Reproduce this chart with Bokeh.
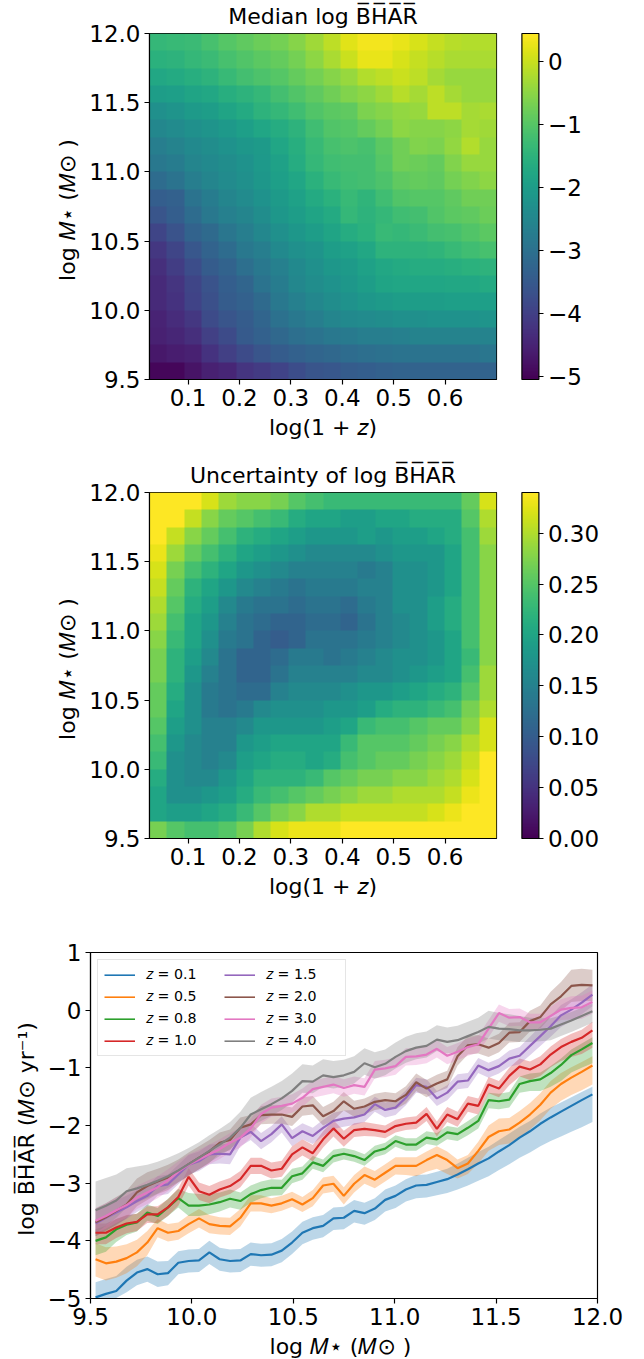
import numpy as np
from bokeh.embed import file_html
from bokeh.resources import INLINE
from bokeh.plotting import figure
from bokeh.models import (Range1d, LinearColorMapper, ColorBar, FixedTicker, NumeralTickFormatter)
from bokeh.palettes import Viridis256

median_rows = [
[-1.4,-1.35,-1.3,-1.15,-1.0,-.9,-.8,-.7,-.55,-.35,-.1,.2,.35,.35,.25,.1,-.05,-.15,-.2,-.2],
[-1.55,-1.5,-1.4,-1.3,-1.15,-1.05,-.95,-.85,-.7,-.5,-.25,.0,.25,.25,.1,-.05,-.15,-.25,-.25,-.25],
[-1.75,-1.7,-1.6,-1.5,-1.35,-1.2,-1.1,-1.0,-.85,-.7,-.55,-.4,-.2,-.1,0,-.1,-.3,-.4,-.4,-.4],
[-2.0,-1.95,-1.85,-1.75,-1.6,-1.5,-1.4,-1.2,-1.05,-.9,-.75,-.6,-.5,-.35,-.15,-.3,-.1,-.3,-.4,-.4],
[-2.3,-2.2,-2.05,-2.0,-1.85,-1.7,-1.5,-1.4,-1.25,-1.05,-.95,-.9,-.65,-.55,-.45,-.4,-.1,-.1,-.3,-.25],
[-2.5,-2.4,-2.3,-2.2,-2.1,-1.95,-1.8,-1.65,-1.5,-1.25,-1.05,-1.0,-.85,-.7,-.5,-.55,-.55,-.5,-.3,-.35],
[-2.7,-2.6,-2.45,-2.35,-2.25,-2.15,-2.05,-1.8,-1.6,-1.35,-1.15,-1.1,-1.15,-.95,-.75,-.6,-.65,-.45,-.2,-.4],
[-2.85,-2.75,-2.55,-2.45,-2.35,-2.25,-2.1,-1.9,-1.65,-1.4,-1.25,-1.2,-1.2,-1.0,-.75,-.8,-.85,-.6,-.4,-.4],
[-3.1,-2.95,-2.7,-2.55,-2.4,-2.3,-2.15,-1.95,-1.8,-1.55,-1.35,-1.25,-1.2,-1.1,-.9,-.85,-.9,-.7,-.6,-.5],
[-3.4,-3.35,-2.95,-2.75,-2.55,-2.4,-2.25,-2.05,-1.9,-1.7,-1.55,-1.35,-1.45,-1.25,-1.05,-1.0,-1.0,-.9,-.75,-.75],
[-3.6,-3.4,-3.1,-2.85,-2.65,-2.55,-2.35,-2.15,-2.0,-1.85,-1.7,-1.4,-1.5,-1.4,-1.25,-1.2,-1.05,-.95,-.9,-.8],
[-3.9,-3.65,-3.3,-3.15,-2.9,-2.7,-2.5,-2.3,-2.15,-2.0,-1.85,-1.65,-1.55,-1.35,-1.4,-1.3,-1.2,-1.15,-1.05,-.95],
[-4.15,-3.9,-3.55,-3.3,-3.1,-2.85,-2.7,-2.45,-2.3,-2.2,-2.0,-1.9,-1.75,-1.5,-1.5,-1.5,-1.45,-1.35,-1.25,-1.15],
[-4.3,-4.05,-3.75,-3.45,-3.3,-3.05,-2.85,-2.65,-2.45,-2.3,-2.15,-2.05,-1.9,-1.75,-1.7,-1.65,-1.65,-1.6,-1.55,-1.5],
[-4.4,-4.2,-3.9,-3.65,-3.4,-3.25,-2.95,-2.75,-2.5,-2.35,-2.25,-2.15,-2.0,-1.85,-1.8,-1.8,-1.8,-1.75,-1.75,-1.7],
[-4.4,-4.25,-3.95,-3.7,-3.45,-3.35,-3.15,-2.85,-2.65,-2.5,-2.35,-2.25,-2.15,-2.05,-2.0,-2.0,-2.0,-1.95,-1.95,-1.95],
[-4.5,-4.35,-4.15,-3.8,-3.6,-3.45,-3.25,-3.0,-2.85,-2.7,-2.55,-2.45,-2.4,-2.35,-2.3,-2.3,-2.25,-2.25,-2.25,-2.2],
[-4.55,-4.45,-4.3,-4.0,-3.8,-3.5,-3.35,-3.2,-3.05,-2.95,-2.85,-2.8,-2.7,-2.7,-2.65,-2.6,-2.6,-2.6,-2.6,-2.6],
[-4.7,-4.6,-4.55,-4.25,-4.0,-3.8,-3.6,-3.45,-3.35,-3.25,-3.2,-3.1,-3.05,-3.0,-2.95,-2.95,-2.95,-2.95,-2.95,-2.9],
[-4.95,-4.95,-4.75,-4.55,-4.45,-4.2,-4.1,-3.95,-3.75,-3.6,-3.55,-3.45,-3.4,-3.35,-3.3,-3.3,-3.3,-3.3,-3.3,-3.3],
]
uncert_rows = [
[.34,.34,.34,.32,.29,.28,.28,.27,.25,.24,.23,.23,.23,.23,.23,.23,.23,.23,.26,.32],
[.34,.34,.31,.28,.26,.25,.24,.23,.21,.20,.20,.19,.19,.20,.20,.21,.21,.21,.25,.30],
[.34,.31,.28,.26,.24,.22,.21,.20,.19,.18,.18,.18,.19,.18,.19,.19,.20,.21,.24,.29],
[.33,.29,.26,.24,.22,.20,.19,.18,.17,.16,.16,.16,.16,.17,.18,.18,.18,.20,.24,.28],
[.32,.27,.24,.22,.20,.18,.17,.16,.15,.15,.15,.15,.14,.15,.17,.17,.18,.20,.24,.28],
[.31,.26,.22,.20,.18,.16,.15,.14,.13,.14,.14,.14,.15,.15,.17,.17,.18,.20,.24,.28],
[.30,.25,.21,.19,.16,.14,.13,.13,.12,.13,.13,.12,.14,.15,.17,.17,.19,.21,.24,.28],
[.29,.24,.20,.18,.15,.13,.12,.11,.11,.12,.12,.11,.13,.15,.16,.17,.19,.21,.24,.28],
[.28,.23,.20,.17,.14,.13,.11,.10,.11,.13,.13,.13,.14,.15,.16,.17,.18,.20,.24,.28],
[.27,.22,.19,.16,.13,.11,.11,.12,.14,.14,.13,.14,.15,.16,.17,.17,.18,.20,.23,.28],
[.27,.22,.18,.15,.13,.11,.11,.13,.15,.15,.15,.15,.16,.16,.17,.18,.19,.20,.24,.29],
[.26,.21,.17,.14,.13,.12,.12,.15,.16,.16,.16,.17,.18,.18,.19,.20,.21,.22,.25,.29],
[.26,.20,.17,.14,.13,.14,.16,.17,.17,.17,.18,.18,.19,.21,.22,.22,.23,.24,.27,.30],
[.25,.19,.17,.15,.15,.16,.18,.18,.18,.18,.19,.20,.23,.24,.24,.25,.26,.26,.28,.32],
[.24,.18,.16,.15,.15,.18,.19,.20,.20,.20,.20,.23,.25,.25,.25,.26,.27,.28,.30,.32],
[.23,.17,.16,.15,.16,.19,.20,.21,.21,.20,.21,.24,.25,.26,.26,.27,.28,.29,.31,.34],
[.21,.17,.16,.16,.18,.20,.22,.22,.22,.23,.25,.26,.27,.27,.28,.28,.29,.30,.32,.34],
[.20,.17,.17,.18,.19,.21,.23,.24,.25,.26,.27,.28,.29,.29,.30,.30,.30,.31,.33,.34],
[.20,.19,.19,.20,.21,.23,.25,.27,.28,.30,.30,.31,.31,.31,.31,.31,.32,.33,.34,.34],
[.27,.25,.24,.24,.25,.27,.30,.32,.33,.33,.33,.34,.34,.34,.34,.34,.34,.34,.34,.34],
]

mass_bins = [9.525,9.576,9.627,9.678,9.729,9.780,9.831,9.882,9.933,9.984,10.035,10.086,10.137,10.188,10.239,10.290,10.341,
 10.392,10.443,10.494,10.545,10.596,10.647,10.698,10.749,10.800,10.851,10.902,10.953,11.004,11.055,11.106,11.157,11.208,
 11.259,11.310,11.361,11.412,11.463,11.514,11.565,11.616,11.667,11.718,11.769,11.820,11.871,11.922,11.975]

bhar_z01 = [-4.98,-4.92,-4.87,-4.69,-4.55,-4.49,-4.58,-4.56,-4.38,-4.35,-4.34,-4.20,-4.32,-4.35,-4.34,-4.23,-4.25,-4.24,-4.17,-4.03,-3.86,-3.78,-3.74,-3.61,-3.60,-3.48,-3.52,-3.44,-3.29,-3.22,-3.11,-3.04,-3.03,-2.98,-2.93,-2.85,-2.76,-2.66,-2.57,-2.45,-2.34,-2.21,-2.10,-1.97,-1.86,-1.76,-1.66,-1.56,-1.46]
bhar_z05 = [-4.32,-4.39,-4.36,-4.30,-4.20,-4.03,-3.78,-3.86,-3.83,-3.71,-3.61,-3.71,-3.74,-3.75,-3.60,-3.35,-3.35,-3.39,-3.35,-3.28,-3.37,-3.26,-3.04,-3.01,-3.22,-3.01,-2.86,-2.94,-2.82,-2.70,-2.70,-2.70,-2.60,-2.51,-2.60,-2.74,-2.66,-2.44,-2.20,-2.10,-2.07,-1.95,-1.81,-1.64,-1.43,-1.28,-1.17,-1.07,-0.96]
bhar_z08 = [-4.00,-3.94,-3.80,-3.72,-3.68,-3.51,-3.57,-3.42,-3.26,-3.39,-3.39,-3.37,-3.33,-3.27,-3.31,-3.19,-3.12,-3.08,-3.08,-2.88,-2.83,-2.64,-2.70,-2.53,-2.49,-2.53,-2.60,-2.45,-2.40,-2.27,-2.33,-2.33,-2.21,-2.24,-2.12,-2.15,-2.04,-1.92,-1.56,-1.58,-1.55,-1.28,-1.23,-1.20,-1.09,-0.95,-0.78,-0.68,-0.57]
bhar_z10 = [-3.86,-3.86,-3.77,-3.70,-3.67,-3.54,-3.54,-3.42,-3.24,-2.89,-3.14,-3.20,-3.11,-3.05,-2.93,-2.70,-2.70,-2.78,-2.75,-2.50,-2.38,-2.48,-2.24,-2.05,-2.23,-2.08,-2.06,-2.08,-2.11,-2.01,-1.97,-1.95,-1.80,-2.06,-1.81,-1.89,-1.62,-1.66,-1.29,-1.36,-1.14,-0.98,-1.03,-0.94,-0.77,-0.64,-0.55,-0.48,-0.35]
bhar_z15 = [-3.70,-3.60,-3.51,-3.42,-3.31,-3.22,-3.05,-3.02,-2.85,-2.68,-2.62,-2.50,-2.49,-2.50,-2.21,-2.11,-2.27,-2.15,-1.98,-2.22,-2.10,-2.18,-2.04,-1.92,-1.88,-1.86,-1.81,-1.63,-1.73,-1.69,-1.52,-1.30,-1.33,-1.53,-1.43,-1.24,-1.22,-0.96,-1.04,-0.97,-0.84,-0.79,-0.62,-0.45,-0.28,-0.09,0.01,0.13,0.27]
bhar_z20 = [-3.68,-3.59,-3.48,-3.37,-3.16,-3.05,-2.97,-2.90,-2.79,-2.67,-2.56,-2.45,-2.30,-2.25,-2.04,-1.98,-1.82,-1.81,-1.81,-1.85,-1.67,-1.65,-1.84,-1.75,-1.58,-1.71,-1.67,-1.59,-1.56,-1.58,-1.47,-1.25,-1.36,-1.27,-1.20,-0.80,-0.61,-0.59,-0.65,-0.57,-0.39,-0.38,-0.19,-0.12,0.10,0.24,0.42,0.44,0.43]
bhar_z30 = [-3.65,-3.57,-3.47,-3.38,-3.25,-3.16,-3.07,-2.95,-2.80,-2.68,-2.59,-2.50,-2.41,-2.30,-2.21,-2.05,-1.80,-1.69,-1.66,-1.62,-1.52,-1.37,-1.33,-1.29,-1.35,-1.30,-1.33,-1.03,-1.01,-0.97,-0.81,-0.80,-0.77,-0.67,-0.79,-0.72,-0.64,-0.59,-0.32,-0.05,-0.13,-0.12,-0.21,-0.21,-0.10,0.01,0.04,0.05,0.14]
bhar_z40 = [-3.47,-3.39,-3.30,-3.14,-3.09,-3.03,-2.96,-2.88,-2.78,-2.67,-2.56,-2.44,-2.33,-2.21,-2.04,-1.81,-1.72,-1.63,-1.53,-1.40,-1.23,-1.24,-1.13,-1.16,-1.13,-1.07,-0.92,-0.99,-0.93,-0.81,-0.71,-0.65,-0.62,-0.51,-0.55,-0.52,-0.45,-0.38,-0.29,-0.32,-0.33,-0.35,-0.35,-0.34,-0.32,-0.25,-0.18,-0.10,-0.02]

up_z01 = [.26,.26,.26,.24,.22,.22,.22,.21,.20,.20,.20,.20,.20,.20,.20,.20,.20,.20,.20,.19,.19,.19,.19,.19,.19,.19,.18,.18,.18,.18,.18,.18,.18,.18,.18,.19,.20,.20,.20,.20,.20,.19,.18,.18,.17,.16,.15,.14,.13]
lo_z01 = [.05,.10,.12,.20,.22,.22,.22,.21,.20,.20,.20,.20,.20,.20,.20,.20,.20,.20,.20,.20,.20,.20,.20,.20,.20,.20,.20,.20,.20,.21,.21,.22,.22,.23,.24,.26,.28,.30,.31,.32,.33,.35,.37,.39,.41,.43,.45,.47,.48]
up_z05 = [.28,.28,.26,.24,.22,.20,.16,.15,.15,.16,.16,.16,.15,.15,.15,.14,.14,.13,.13,.13,.13,.14,.14,.14,.15,.15,.15,.15,.15,.15,.15,.15,.15,.15,.15,.15,.15,.16,.20,.22,.20,.20,.20,.20,.20,.19,.18,.17,.16]
lo_z05 = [.30,.30,.28,.26,.24,.22,.16,.15,.15,.16,.16,.16,.15,.15,.15,.14,.14,.13,.13,.13,.13,.14,.14,.14,.15,.15,.15,.15,.15,.15,.16,.18,.20,.24,.24,.18,.18,.22,.24,.24,.24,.25,.26,.27,.28,.29,.30,.32,.33]
up_z08 = [.20,.20,.18,.16,.15,.14,.14,.15,.16,.22,.20,.18,.17,.16,.15,.15,.15,.15,.14,.13,.12,.11,.11,.11,.10,.10,.10,.10,.10,.10,.11,.11,.11,.11,.11,.11,.12,.12,.13,.13,.13,.13,.13,.12,.12,.11,.10,.10,.10]
lo_z08 = [.25,.25,.22,.18,.16,.14,.14,.15,.16,.18,.18,.17,.16,.15,.15,.15,.14,.14,.13,.12,.11,.11,.11,.11,.10,.10,.10,.10,.10,.10,.11,.11,.11,.11,.12,.12,.13,.13,.14,.14,.14,.15,.17,.20,.24,.28,.30,.32,.35]
up_z10 = [.16,.16,.15,.15,.14,.14,.14,.14,.15,.15,.15,.15,.14,.14,.14,.14,.14,.14,.14,.14,.14,.14,.14,.14,.14,.12,.12,.11,.11,.11,.11,.11,.12,.13,.13,.13,.13,.13,.13,.13,.14,.14,.14,.14,.14,.14,.14,.14,.15]
lo_z10 = [.20,.20,.18,.17,.16,.15,.15,.15,.15,.15,.15,.15,.14,.14,.14,.14,.14,.14,.14,.14,.14,.14,.14,.14,.14,.12,.12,.11,.11,.11,.11,.11,.12,.13,.13,.13,.14,.15,.15,.15,.16,.17,.18,.20,.22,.24,.26,.28,.30]
up_z15 = [.22,.22,.22,.20,.19,.18,.17,.17,.17,.17,.17,.17,.17,.17,.15,.14,.14,.14,.14,.14,.14,.14,.14,.14,.14,.13,.13,.13,.13,.13,.13,.13,.13,.13,.13,.13,.13,.13,.13,.13,.14,.15,.16,.17,.18,.18,.18,.18,.18]
lo_z15 = [.22,.22,.22,.20,.19,.18,.17,.17,.17,.17,.17,.17,.17,.17,.15,.14,.14,.14,.14,.14,.14,.14,.14,.14,.14,.13,.13,.13,.13,.13,.13,.13,.13,.13,.13,.13,.13,.13,.13,.13,.14,.15,.16,.17,.18,.20,.20,.20,.20]
up_z20 = [.24,.24,.24,.24,.24,.24,.22,.22,.20,.20,.20,.20,.18,.18,.18,.16,.16,.16,.16,.16,.16,.16,.16,.16,.16,.14,.14,.14,.14,.14,.15,.15,.15,.15,.15,.16,.16,.16,.16,.16,.17,.17,.18,.20,.22,.25,.28,.28,.27]
lo_z20 = [.24,.24,.24,.24,.24,.24,.22,.22,.20,.20,.20,.20,.18,.18,.18,.16,.16,.16,.16,.16,.16,.16,.16,.16,.16,.14,.14,.14,.14,.14,.15,.15,.15,.15,.15,.16,.16,.16,.16,.16,.17,.17,.18,.20,.22,.25,.28,.28,.27]
up_z30 = [.22,.22,.22,.22,.20,.20,.19,.19,.18,.18,.17,.17,.17,.17,.17,.16,.16,.16,.16,.16,.16,.15,.15,.15,.15,.15,.15,.15,.15,.15,.15,.15,.15,.15,.15,.15,.15,.15,.15,.15,.15,.15,.15,.15,.16,.18,.20,.20,.20]
lo_z30 = [.22,.22,.22,.22,.20,.20,.19,.19,.18,.18,.17,.17,.17,.17,.17,.16,.16,.16,.16,.16,.16,.15,.15,.15,.15,.15,.15,.15,.15,.15,.15,.15,.15,.15,.15,.15,.15,.15,.15,.15,.15,.15,.15,.15,.16,.18,.20,.20,.20]
up_z40 = [.50,.48,.45,.40,.38,.35,.33,.32,.30,.28,.27,.27,.27,.27,.28,.29,.30,.30,.30,.30,.29,.28,.28,.28,.27,.27,.26,.26,.25,.25,.25,.25,.25,.25,.25,.25,.25,.25,.28,.27,.26,.25,.22,.20,.18,.16,.15,.14,.13]
lo_z40 = [.40,.35,.30,.28,.25,.23,.22,.20,.20,.20,.20,.20,.20,.20,.20,.20,.20,.20,.20,.20,.20,.20,.20,.20,.20,.20,.20,.20,.20,.20,.20,.20,.20,.20,.20,.20,.20,.20,.20,.20,.20,.20,.20,.20,.20,.20,.20,.20,.20]

labels = ["𝑧 = 0.1","𝑧 = 0.5","𝑧 = 0.8","𝑧 = 1.0","𝑧 = 1.5","𝑧 = 2.0","𝑧 = 3.0","𝑧 = 4.0"]
series = [bhar_z01,bhar_z05,bhar_z08,bhar_z10,bhar_z15,bhar_z20,bhar_z30,bhar_z40]
uppers = [up_z01,up_z05,up_z08,up_z10,up_z15,up_z20,up_z30,up_z40]
lowers = [lo_z01,lo_z05,lo_z08,lo_z10,lo_z15,lo_z20,lo_z30,lo_z40]
colors = ["#1f77b4","#ff7f0e","#2ca02c","#d62728","#9467bd","#8c564b","#e377c2","#7f7f7f"]

BHAR = "B\u0305H\u0305A\u0305R\u0305"
FONT = "DejaVu Sans"
FS = "22px"
TICK_FS = "23px"
LW = 1.17

def style(p):
    p.grid.visible = False
    p.outline_line_color = "black"
    p.outline_line_width = LW
    for ax in (p.xaxis[0], p.yaxis[0]):
        ax.major_label_text_font = FONT
        ax.major_label_text_font_size = TICK_FS
        ax.major_label_text_color = "black"
        ax.axis_label_text_font = FONT
        ax.axis_label_text_font_size = FS
        ax.axis_label_text_font_style = "normal"
        ax.axis_label_text_color = "black"
        ax.minor_tick_line_color = None
        ax.major_tick_in = 0
        ax.major_tick_out = 5
        ax.major_tick_line_width = LW
        ax.axis_line_width = LW
        ax.major_label_standoff = 4

def heat(rows, low, high, title, ticks, overrides, top, height):
    p = figure(width=636, height=height, frame_width=347, frame_height=346, output_backend="svg",
               toolbar_location=None, x_range=Range1d(0.025, 0.70), y_range=Range1d(9.5, 12.0),
               min_border_left=149, min_border_top=top, min_border_right=140, min_border_bottom=height-top-346,
               background_fill_color="white")
    mapper = LinearColorMapper(palette=Viridis256, low=low, high=high)
    p.image(image=[np.array(rows, dtype=float)[::-1]], x=0.025, y=9.5, dw=0.675, dh=2.5, color_mapper=mapper)
    style(p)
    p.title.text = title
    p.title.text_font = FONT
    p.title.text_font_size = FS
    p.title.text_font_style = "normal"
    p.title.text_color = "black"
    p.title.align = "center"
    p.xaxis.ticker = FixedTicker(ticks=[0.1,0.2,0.3,0.4,0.5,0.6])
    p.xaxis.formatter = NumeralTickFormatter(format="0.0")
    p.yaxis.ticker = FixedTicker(ticks=[9.5,10,10.5,11,11.5,12])
    p.yaxis.formatter = NumeralTickFormatter(format="0.0")
    p.xaxis.axis_label = "log(1 + 𝑧)"
    p.xaxis.axis_label_standoff = 6
    p.yaxis.axis_label = "log 𝑀⋆  (𝑀⊙ )"
    p.yaxis.axis_label_standoff = 6
    cb = ColorBar(color_mapper=mapper, width=17, height=346, ticker=FixedTicker(ticks=ticks),
                  major_label_overrides=overrides, margin=0, padding=0, location=(372.4, 0),
                  major_tick_in=0, major_tick_out=5, major_tick_line_color="black", major_tick_line_width=LW,
                  bar_line_color="black", bar_line_width=LW, border_line_color=None,
                  background_fill_alpha=0, label_standoff=4,
                  major_label_text_font=FONT, major_label_text_font_size=TICK_FS, major_label_text_color="black")
    p.add_layout(cb, "center")
    return p

p1 = heat(median_rows, -5.05, 0.44, "Median log " + BHAR, [-5,-4,-3,-2,-1,0],
          {-5:"−5",-4:"−4",-3:"−3",-2:"−2",-1:"−1",0:"0"}, 32, 454)
p2 = heat(uncert_rows, 0, 0.34, "Uncertainty of log " + BHAR, [0,.05,.1,.15,.2,.25,.3],
          {0:"0.00",.05:"0.05",.1:"0.10",.15:"0.15",.2:"0.20",.25:"0.25",.3:"0.30"}, 32, 450)
p1.margin = (-4, 0, 0, 0)

p3 = figure(width=636, height=448, frame_width=507, frame_height=346, output_backend="svg",
            toolbar_location=None, x_range=Range1d(9.5, 12.0), y_range=Range1d(-5, 1),
            min_border_left=90, min_border_top=42, min_border_right=39, min_border_bottom=60)
for ys, up, lo, c in zip(series, uppers, lowers, colors):
    ya = np.array(ys)
    p3.varea(x=mass_bins, y1=list(ya - np.array(lo)), y2=list(ya + np.array(up)), fill_color=c, fill_alpha=0.3)
for ys, c, lab in zip(series, colors, labels):
    p3.line(mass_bins, ys, line_color=c, line_width=2.2, legend_label=lab)
style(p3)
p3.xaxis.ticker = FixedTicker(ticks=[9.5,10,10.5,11,11.5,12])
p3.xaxis.formatter = NumeralTickFormatter(format="0.0")
p3.yaxis.ticker = FixedTicker(ticks=[-5,-4,-3,-2,-1,0,1])
p3.yaxis.major_label_overrides = {-5:"−5",-4:"−4",-3:"−3",-2:"−2",-1:"−1",0:"0",1:"1"}
p3.xaxis.axis_label = "log 𝑀⋆  (𝑀⊙ )"
p3.xaxis.axis_label_standoff = 6
p3.yaxis.axis_label = "log " + BHAR + " (𝑀⊙  yr⁻¹)"
p3.yaxis.axis_label_standoff = 6
lg = p3.legend[0]
lg.location = "top_left"
lg.nrows = 4
lg.margin = 7
lg.padding = 6
lg.spacing = 5
lg.glyph_width = 31
lg.glyph_height = 2
lg.label_height = 2
lg.label_width = 73
lg.label_standoff = 11
lg.label_text_font = FONT
lg.label_text_font_size = "14.2px"
lg.label_text_color = "black"
lg.border_line_color = "#cccccc"
lg.background_fill_alpha = 0.8

open("out.html", "w").write(file_html([p1, p2, p3], INLINE))
